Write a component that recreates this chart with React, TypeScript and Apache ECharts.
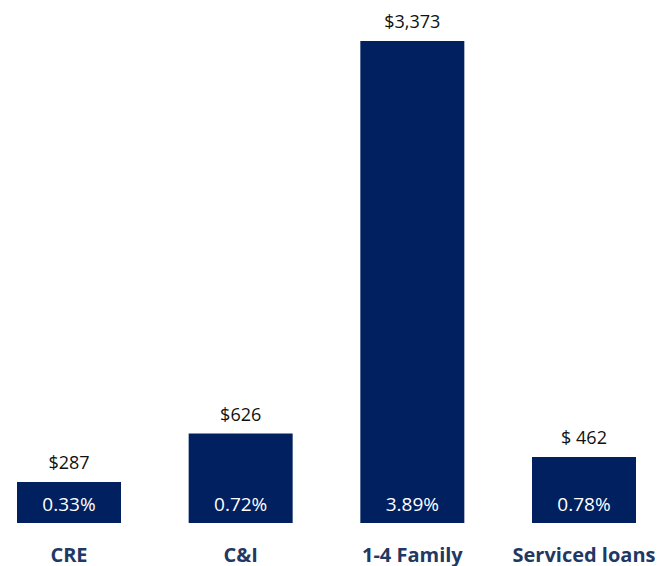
import React, { useEffect, useRef } from "react";
import * as echarts from "echarts";

const categories = ["CRE", "C&I", "1-4 Family", "Serviced loans"];
const values = [287, 626, 3373, 462];
const dollarLabels = ["$287", "$626", "$3,373", "$ 462"];
const pctLabels = ["0.33%", "0.72%", "3.89%", "0.78%"];

const FONT = "'Open Sans', 'Noto Sans', sans-serif";

export default function App() {
  const ref = useRef<HTMLDivElement>(null);
  useEffect(() => {
    if (!ref.current) return;
    const chart = echarts.init(ref.current, undefined, { renderer: "svg" });
    chart.setOption({
      animation: false,
      backgroundColor: "#ffffff",
      grid: { left: 69, right: 75, top: 41, bottom: 43, containLabel: false },
      xAxis: {
        type: "category",
        data: categories,
        boundaryGap: false,
        axisLine: { show: false },
        axisTick: { show: false },
        axisLabel: {
          margin: 20,
          color: "#1F3864",
          fontWeight: "bold",
          fontSize: 20,
          lineHeight: 22,
          fontFamily: FONT,
          interval: 0,
        },
      },
      yAxis: {
        type: "value",
        min: 0,
        max: 3373,
        show: false,
        splitLine: { show: false },
      },
      series: [
        {
          type: "bar",
          data: values,
          barWidth: 104,
          itemStyle: { color: "#002060" },
          label: {
            show: true,
            position: "top",
            distance: 11,
            color: "#111111",
            fontSize: 18,
            fontFamily: FONT,
            formatter: (p: any) => dollarLabels[p.dataIndex],
          },
        },
        {
          type: "bar",
          data: values,
          barWidth: 104,
          barGap: "-100%",
          itemStyle: { color: "rgba(0,0,0,0)" },
          label: {
            show: true,
            position: "insideBottom",
            distance: 9.5,
            color: "#ffffff",
            fontSize: 19,
            fontFamily: FONT,
            formatter: (p: any) => pctLabels[p.dataIndex],
          },
        },
      ],
    });
    return () => chart.dispose();
  }, []);
  return <div ref={ref} style={{ width: 659, height: 566, position: "absolute", left: 0, top: 0 }} />;
}
